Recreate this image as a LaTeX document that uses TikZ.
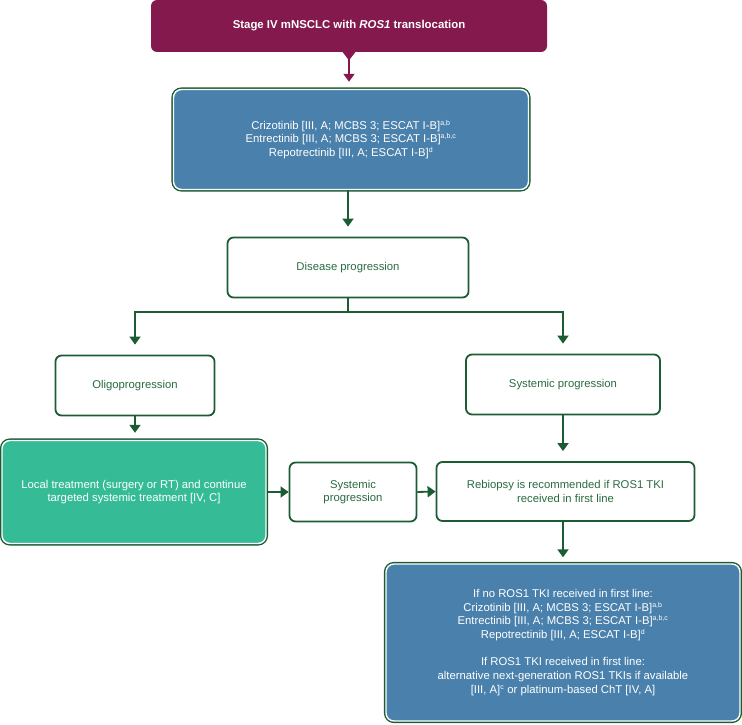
\documentclass[tikz,border=0pt]{standalone}
\usepackage{fontspec}
\setmainfont{Liberation Sans}
\usetikzlibrary{arrows.meta,shapes.geometric}
\definecolor{dgreen}{HTML}{1C5C33}
\definecolor{tgreen}{HTML}{2A6B40}
\definecolor{pmag}{HTML}{83194D}
\definecolor{sblue}{HTML}{4A81AC}
\definecolor{lgreen}{HTML}{35BC97}
\newcommand{\supx}[1]{\textsuperscript{\scriptsize #1}}
\begin{document}
\begin{tikzpicture}[x=1pt,y=-1pt,
  every node/.style={font=\fontsize{11.3}{13.7}\selectfont, align=center, inner sep=2pt},
  wbox/.style={draw=dgreen, line width=1.8pt, rounded corners=6pt, fill=white, text=tgreen},
  fbox/.style={preaction={draw=dgreen, line width=4.2pt, rounded corners=8pt}, draw=white, line width=1.4pt, rounded corners=8pt, text=white},
  conn/.style={draw=dgreen, line width=1.8pt},
  arr/.style={conn, -{Triangle[width=11pt,length=8pt]}},
]
\useasboundingbox (0,0) rectangle (742,725);

\node[fill=pmag, rounded corners=6pt, minimum width=396pt, minimum height=52pt, text=white, font=\fontsize{11.4}{13}\selectfont\bfseries] (top) at (349,26) {Stage IV mNSCLC with \textit{ROS1} translocation};
\node[diamond, fill=pmag, minimum width=13pt, minimum height=17pt, inner sep=0pt] (dia) at (349,52) {};

\node[fbox, fill=sblue, minimum width=355pt, minimum height=100pt] (b1) at (351,139.5) {Crizotinib [III, A; MCBS 3; ESCAT I-B]\supx{a,b}\\Entrectinib [III, A; MCBS 3; ESCAT I-B]\supx{a,b,c}\\Repotrectinib [III, A; ESCAT I-B]\supx{d}};

\node[wbox, minimum width=241pt, minimum height=60pt] (dp) at (348,267.5) {Disease progression};

\node[wbox, minimum width=159pt, minimum height=60pt] (oligo) at (135,385.5) {Oligoprogression};
\node[wbox, minimum width=194pt, minimum height=60pt] (sysr) at (563,384.5) {Systemic progression};

\node[fbox, fill=lgreen, minimum width=264pt, minimum height=103pt] (local) at (134,492) {Local treatment (surgery or RT) and continue\\targeted systemic treatment [IV, C]};
\node[wbox, minimum width=127pt, minimum height=59pt] (sysm) at (353,492) {Systemic\\progression};
\node[wbox, minimum width=258pt, minimum height=59pt] (rebi) at (565.5,491.5) {Rebiopsy is recommended if ROS1 TKI\\received in first line};

\node[fbox, fill=sblue, minimum width=354pt, minimum height=157pt] (fin) at (563,642.5) {If no ROS1 TKI received in first line:\\Crizotinib [III, A; MCBS 3; ESCAT I-B]\supx{a,b}\\Entrectinib [III, A; MCBS 3; ESCAT I-B]\supx{a,b,c}\\Repotrectinib [III, A; ESCAT I-B]\supx{d}\\[13.7pt]If ROS1 TKI received in first line:\\alternative next-generation ROS1 TKIs if available\\{}[III, A]\supx{c} or platinum-based ChT [IV, A]};

\coordinate (br) at (348,312);

\draw[draw=pmag, line width=1.8pt, -{Triangle[width=11pt,length=8pt]}, shorten >=7pt] (dia.center) -- (dia.center |- b1.north);
\draw[arr, shorten >=10pt] (dp.north |- b1.south) -- (dp.north);
\draw[conn] (dp.south) -- (br);
\draw[arr, shorten >=10pt] (br) -| (oligo.north);
\draw[arr, shorten >=10pt] (br) -| (sysr.north);
\draw[arr, shorten >=7pt] (oligo.south) -- (oligo.south |- local.north);
\draw[arr, shorten >=10pt] (sysr.south) -- (sysr.south |- rebi.north);
\draw[arr] (local.east) -- (sysm.west);
\draw[arr] (sysm.east) -- (rebi.west);
\draw[arr, shorten >=6pt] (sysr.south |- rebi.south) -- (sysr.south |- fin.north);
\end{tikzpicture}
\end{document}
